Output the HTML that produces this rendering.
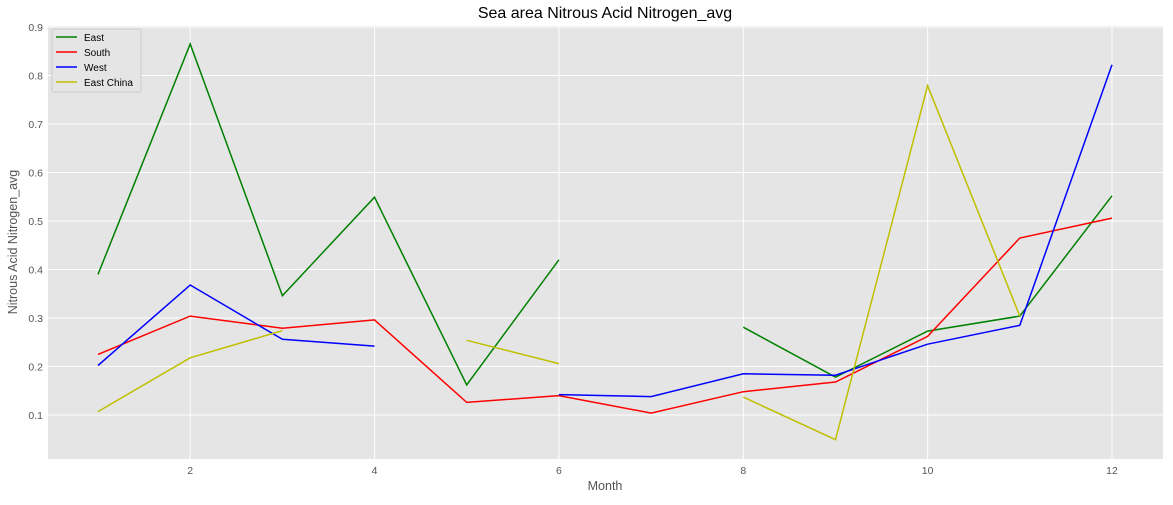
<!DOCTYPE html>
<html><head><meta charset="utf-8"><style>
body{margin:0;background:#fff;font-family:"Liberation Sans","DejaVu Sans",sans-serif;}
svg text{font-family:"Liberation Sans","DejaVu Sans",sans-serif;}
</style></head><body>
<svg id="chart" width="1173" height="500" viewBox="0 0 1173 500" xmlns="http://www.w3.org/2000/svg">
<rect x="0" y="0" width="1173" height="500" fill="#fff"/>
<rect x="48" y="26" width="1115" height="433" fill="#e5e5e5"/>
<g id="grid"></g><g id="lines"></g><g id="ticks"></g>
<text x="605" y="18" font-size="16" text-anchor="middle" fill="#000">Sea area Nitrous Acid Nitrogen_avg</text>
<text x="605" y="490" font-size="12.5" text-anchor="middle" fill="#555">Month</text>
<text transform="translate(17,242) rotate(-90)" font-size="12.5" text-anchor="middle" fill="#555">Nitrous Acid Nitrogen_avg</text>
<g>
<rect x="52" y="29" width="89" height="63" fill="#e5e5e5" stroke="#ccc" rx="2"/>
</g>
<g id="legend-items"></g>
</svg>
<script>
const months=[1,2,3,4,5,6,7,8,9,10,11,12];
const east=[0.39,0.865,0.346,0.549,0.162,0.42,null,0.281,0.178,0.273,0.304,0.552];
const south=[0.225,0.304,0.279,0.296,0.126,0.140,0.104,0.148,0.168,0.262,0.465,0.506];
const west=[0.202,0.368,0.256,0.242,null,0.142,0.138,0.185,0.182,0.246,0.285,0.822];
const eastChina=[0.107,0.218,0.274,null,0.254,0.206,null,0.137,0.049,0.779,0.304,null];
const xTicks=[2,4,6,8,10,12];
const yTicks=[0.1,0.2,0.3,0.4,0.5,0.6,0.7,0.8,0.9];
const seriesNames=["East","South","West","East China"];
const NS="http://www.w3.org/2000/svg";
const xS=m=>98+(m-1)*(1112-98)/11;
const yS=v=>415-(v-0.1)*485;
function mk(t,a,p){const e=document.createElementNS(NS,t);for(const k in a)e.setAttribute(k,a[k]);p.appendChild(e);return e;}
const grid=document.getElementById('grid'),ticks=document.getElementById('ticks');
xTicks.forEach(t=>{const x=xS(t);
const g=mk('line',{x1:x,x2:x,y1:26,y2:459,stroke:'#fff','stroke-width':1},grid);


const tx=mk('text',{x:x,y:474,'font-size':10.5,'text-anchor':'middle',fill:'#555'},ticks);tx.textContent=t;

});
yTicks.forEach(t=>{const y=yS(t);
const g=mk('line',{x1:48,x2:1163,y1:y,y2:y,stroke:'#fff','stroke-width':1},grid);


const tx=mk('text',{x:43,y:y+4,'font-size':10.5,'text-anchor':'end',fill:'#555'},ticks);tx.textContent=t.toFixed(1);

});
const series=[east,south,west,eastChina],colors=['#008000','#ff0000','#0000ff','#bfbf00'];
const lines=document.getElementById('lines'),leg=document.getElementById('legend-items');
series.forEach((s,i)=>{let d='',pen=false;
s.forEach((v,j)=>{if(v===null){pen=false;return;}d+=(pen?'L':'M')+xS(months[j]).toFixed(1)+','+yS(v).toFixed(1);pen=true;});
const p=mk('path',{d:d,fill:'none',stroke:colors[i],'stroke-width':1.5},lines);


const y=37+i*15;
const ln=mk('line',{x1:56,x2:77,y1:y,y2:y,stroke:colors[i],'stroke-width':1.5},leg);


const tx=mk('text',{x:84,y:y+4,'font-size':10,fill:'#000'},leg);tx.textContent=seriesNames[i];

});
</script>
</body></html>
